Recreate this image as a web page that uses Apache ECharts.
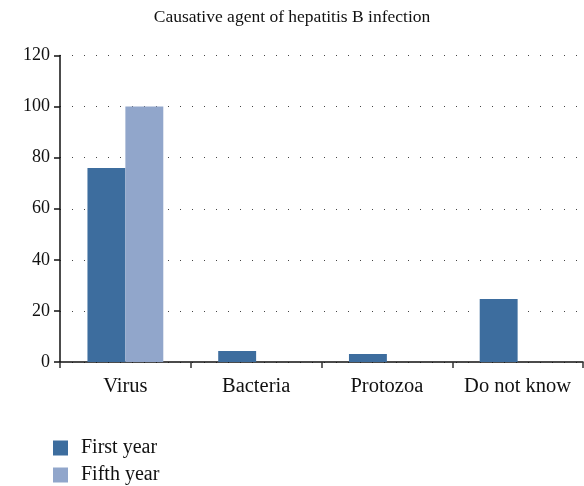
<!DOCTYPE html>
<html>
<head>
<meta charset="utf-8">
<script src="https://cdn.jsdelivr.net/npm/echarts@6/dist/echarts.min.js"></script>
<style>
  html, body { margin: 0; padding: 0; background: #fff; }
  #chart { width: 584px; height: 486px; }
</style>
</head>
<body>
<div id="chart"></div>
<script>
// data
var categories = ['Virus', 'Bacteria', 'Protozoa', 'Do not know'];
var firstYear = [76, 4.3, 3.1, 24.7];
var fifthYear = [100, 0, 0, 0];
var yTicks = { min: 0, max: 120, interval: 20 };

var serif = '"Liberation Serif", "DejaVu Serif", serif';

var chart = echarts.init(document.getElementById('chart'));
var option = {
  animation: false,
  title: {
    text: 'Causative agent of hepatitis B infection',
    left: 'center',
    top: 3,
    textStyle: { fontFamily: serif, fontSize: 17.5, fontWeight: 'normal', color: '#111' }
  },
  legend: {
    orient: 'vertical',
    left: 53,
    top: 438,
    height: 80,
    padding: 0,
    icon: 'rect',
    itemWidth: 15,
    itemHeight: 15,
    itemGap: 7,
    textStyle: { fontFamily: serif, fontSize: 20, lineHeight: 15, color: '#111', padding: [0, 0, 0, 8] },
    data: ['First year', 'Fifth year']
  },
  grid: { left: 60, right: 1, top: 55.5, bottom: 124 },
  xAxis: {
    type: 'category',
    data: categories,
    axisLine: { lineStyle: { color: '#111', width: 1.5 } },
    axisTick: { show: true, interval: 0, length: 6, lineStyle: { color: '#333', width: 1.5 } },
    axisLabel: { interval: 0, fontFamily: serif, fontSize: 20.5, color: '#111', margin: 14 }
  },
  yAxis: {
    type: 'value',
    min: yTicks.min,
    max: yTicks.max,
    interval: yTicks.interval,
    axisLine: { show: true, lineStyle: { color: '#111', width: 1.5 } },
    axisTick: { show: true, length: 6, lineStyle: { color: '#111', width: 1.5 } },
    axisLabel: { fontFamily: serif, fontSize: 18, color: '#111', margin: 10 },
    splitLine: { show: true, lineStyle: { color: '#444', width: 1, type: [1, 11] } }
  },
  series: [
    {
      name: 'First year',
      type: 'bar',
      data: firstYear,
      barGap: '0%',
      barCategoryGap: '42%',
      itemStyle: { color: '#3d6d9e' }
    },
    {
      name: 'Fifth year',
      type: 'bar',
      data: fifthYear,
      itemStyle: { color: '#91a6cb' }
    }
  ]
};
chart.setOption(option);
</script>
</body>
</html>
